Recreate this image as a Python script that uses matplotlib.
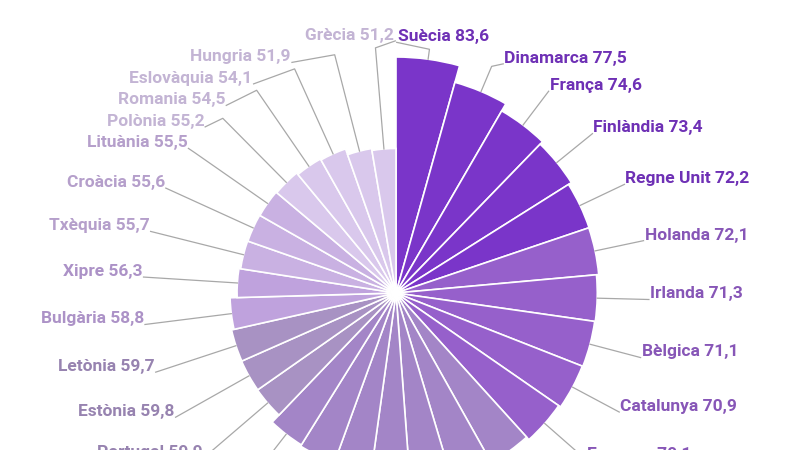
import numpy as np
import matplotlib
matplotlib.use('Agg')
import matplotlib.pyplot as plt
from matplotlib.colors import to_rgb

# dades (ordre horari des de dalt)
countries = ['Suècia', 'Dinamarca', 'França', 'Finlàndia', 'Regne Unit', 'Holanda',
             'Irlanda', 'Bèlgica', 'Catalunya', 'Espanya', 'Alemanya', 'Àustria',
             'Luxemburg', 'Eslovènia', 'UE-28', 'Malta', 'Itàlia', 'Portugal',
             'Estònia', 'Letònia', 'Bulgària', 'Xipre', 'Txèquia', 'Croàcia',
             'Lituània', 'Polònia', 'Romania', 'Eslovàquia', 'Hungria', 'Grècia']
values = [83.6, 77.5, 74.6, 73.4, 72.2, 72.1, 71.3, 71.1, 70.9, 70.1,
          68.9, 67.6, 66.3, 65.0, 64.6, 63.9, 63.4, 59.9,
          59.8, 59.7, 58.8, 56.3, 55.7, 55.6, 55.5, 55.2, 54.5, 54.1, 51.9, 51.2]

# colors per trams de valor
level_edges = [55.4, 56.0, 59.5, 60.0, 70.0, 72.15]
level_colors = ['#d9c8ec', '#c9b1e2', '#bfa2dd', '#a892c3', '#a385c7', '#9660cb', '#7a35c9']

plt.rcParams['font.family'] = ['Roboto', 'DejaVu Sans']

vals = np.array(values)
n = len(vals)
colors = [level_colors[k] for k in np.digitize(vals, level_edges)]
text_colors = [tuple(c * 0.9 for c in to_rgb(col)) for col in colors]

widths = 2 * np.pi * vals / vals.sum()
starts = np.concatenate([[0], np.cumsum(widths)[:-1]])
mids = starts + widths / 2

fig = plt.figure(figsize=(8, 4.5), dpi=100)
half = 282.3  # px per 100 unitats
S = half / 100
rect = [(396 - half) / 800, (157 - half) / 450, 2 * half / 800, 2 * half / 450]

ax = fig.add_axes(rect, projection='polar')
ax.set_theta_zero_location('N')
ax.set_theta_direction(-1)
ax.bar(starts, vals, width=widths, align='edge', color=colors,
       edgecolor='white', linewidth=1.2)
ax.bar(0, 1.6, width=2 * np.pi, align='edge', color='white', linewidth=0)
ax.set_ylim(0, 100)
ax.set_axis_off()

# capa cartesiana per a etiquetes i línies guia
ax2 = fig.add_axes(rect)
ax2.set_xlim(-100, 100)
ax2.set_ylim(-100, 100)
ax2.set_axis_off()

R_lab = 253 / S
R_elb = 246 / S
gap = 21.5 / S
snap = 40 / S

right = [i for i in range(n) if np.sin(mids[i]) > 0]
left = [i for i in reversed(range(n)) if np.sin(mids[i]) <= 0]
for group, side in ((right, 1), (left, -1)):
    prev = None
    for i in group:
        y = R_lab * np.cos(mids[i])
        if prev is not None:
            y = min(y, prev - gap)
        prev = y
        x = side * np.sqrt(max(R_lab ** 2 - y ** 2, 0))
        if abs(R_lab * np.sin(mids[i])) < snap:
            x = side * 0.7 / S
        ex, ey = vals[i] * np.sin(mids[i]), vals[i] * np.cos(mids[i])
        bx, by = R_elb * np.sin(mids[i]), R_elb * np.cos(mids[i])
        ax2.plot([ex, bx, x], [ey, by, y], color='#a8a8a8', lw=0.9, clip_on=False)
        label = f'{countries[i]} {values[i]:.1f}'.replace('.', ',')
        ax2.text(x + side * 1.0 / S, y + 0.4, label, ha='left' if side > 0 else 'right',
                 va='baseline', fontsize=12.5, fontweight='bold', color=text_colors[i])

fig.savefig('out.png', dpi=100)
